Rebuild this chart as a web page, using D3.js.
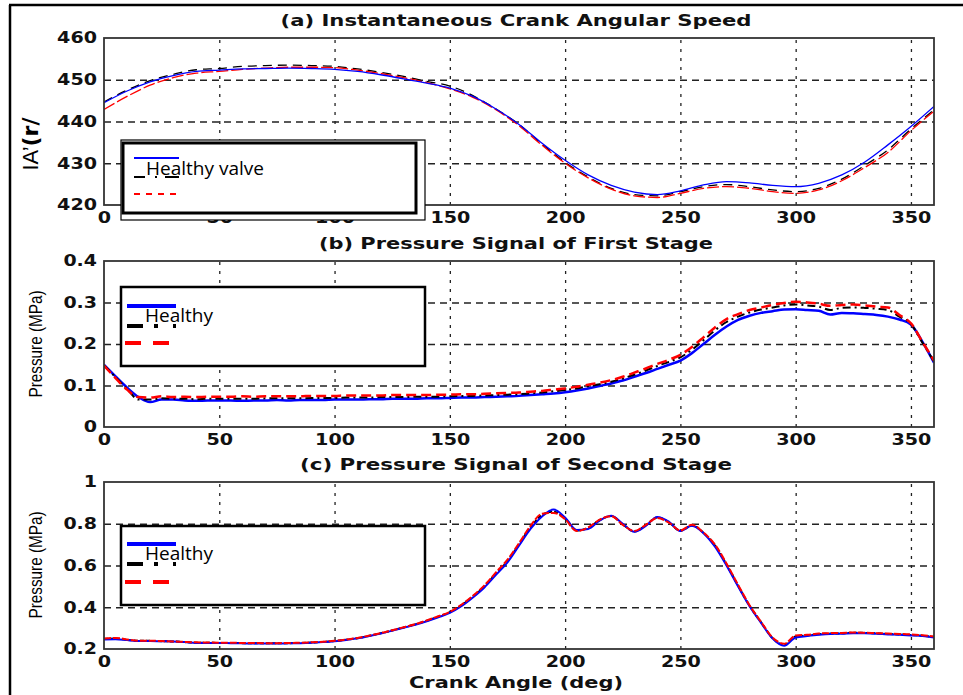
<!DOCTYPE html>
<html>
<head>
<meta charset="utf-8">
<script src="https://cdn.jsdelivr.net/npm/d3@7/dist/d3.min.js"></script>
<style>
  body { margin: 0; background: #fff; }
  .tick text { font-family: "DejaVu Sans", sans-serif; font-weight: bold; font-size: 15px; fill: #111; }
  .ttl { font-family: "DejaVu Sans", sans-serif; font-weight: bold; font-size: 15px; fill: #111; }
  .leg { font-family: "Open Sans", sans-serif; font-size: 19px; fill: #000; }
</style>
</head>
<body>
<div class="page-content"></div>
<script>
// crank angle samples
var angleA = [0,10,20,30,40,50,60,70,80,90,100,110,120,130,140,150,160,170,180,
  190,200,210,220,230,240,250,260,270,280,290,300,310,320,330,340,350,360];
var angleP = [0,5,10,15,20,25,30,35,40,45,50,55,60,65,70,75,80,85,90,95,100,105,110,
  115,120,125,130,135,140,145,150,155,160,165,170,175,180,185,190,195,200,205,210,215,
  220,225,230,235,240,245,250,255,260,265,270,275,280,285,290,295,300,305,310,315,320,
  325,330,335,340,345,350,355,360];

// (a) IAS, r/min
var iasHealthy = [444.5,447.3,449.5,451,452,452.3,452.6,452.7,452.8,452.7,452.5,452,451.2,
  450.2,449.2,448,446,443,439.3,434.8,430.7,427.2,424.7,423.1,422.5,423.4,424.8,425.6,
  425.3,424.7,424.4,425.2,427.2,430.3,434.4,438.8,443.6];
var iasBlack = [444.7,447.5,449.8,451.3,452.4,452.7,453.2,453.4,453.5,453.4,453.2,452.6,
  451.8,450.8,449.6,448.5,446.2,443,439.3,434.6,430.2,426.7,424,422.5,422.2,423.2,424.4,
  424.9,424.4,423.6,423.2,424,426.2,429.5,433.2,438.2,442.8];
var iasRed = [442.9,446,448.7,450.5,451.6,452,452.5,452.8,453,453,452.9,452.3,451.5,450.5,
  449.3,447.8,445.8,442.8,439,434.3,430,426.5,423.8,422.2,421.8,422.8,424,424.4,424,
  423.2,422.8,423.6,425.8,429,432.6,437.8,442.5];

// (b) first stage pressure, MPa
var p1Healthy = [.150,.122,.095,.072,.060,.066,.066,.064,.063,.064,.064,.064,.063,.064,.064,
  .065,.064,.065,.065,.065,.066,.066,.066,.067,.067,.068,.068,.068,.069,.069,.070,.071,
  .071,.072,.073,.074,.075,.077,.079,.081,.084,.088,.093,.099,.105,.112,.121,.130,.140,
  .150,.160,.178,.200,.222,.242,.258,.268,.275,.279,.283,.284,.282,.280,.271,.275,.274,
  .272,.270,.266,.259,.247,.205,.155];
var p1Black = [.149,.120,.092,.066,.066,.069,.068,.068,.067,.068,.068,.068,.068,.068,.069,
  .069,.069,.069,.070,.070,.070,.071,.071,.071,.072,.072,.072,.073,.073,.073,.074,.075,
  .075,.076,.077,.078,.079,.081,.083,.086,.089,.093,.098,.103,.109,.117,.126,.136,.147,
  .157,.168,.186,.209,.233,.253,.266,.276,.283,.288,.293,.295,.293,.290,.282,.287,.288,
  .287,.285,.282,.266,.248,.203,.158];
var p1Red = [.148,.118,.090,.072,.071,.074,.072,.073,.072,.073,.073,.073,.074,.073,.074,
  .074,.074,.074,.075,.075,.075,.076,.076,.076,.076,.077,.077,.077,.077,.078,.078,.079,
  .079,.080,.081,.082,.083,.085,.087,.090,.093,.097,.102,.107,.113,.121,.131,.141,.152,
  .162,.174,.193,.216,.240,.260,.272,.282,.288,.294,.299,.302,.300,.297,.292,.294,.295,
  .293,.290,.288,.270,.250,.205,.160];

// (c) second stage pressure, MPa
var p2Healthy = [.246,.247,.243,.238,.238,.237,.236,.233,.229,.229,.229,.228,.227,.226,.226,
  .226,.227,.228,.230,.233,.237,.243,.251,.262,.274,.288,.302,.316,.333,.352,.373,.405,
  .447,.495,.555,.615,.695,.775,.835,.868,.830,.770,.775,.815,.838,.800,.762,.790,.832,
  .810,.765,.790,.755,.690,.600,.500,.405,.325,.250,.215,.255,.262,.268,.272,.273,.276,
  .275,.273,.270,.268,.265,.262,.255];
var p2Black = [.248,.250,.244,.239,.239,.237,.236,.233,.230,.230,.229,.229,.228,.227,.227,
  .227,.228,.229,.231,.234,.238,.244,.252,.263,.275,.289,.303,.318,.335,.355,.376,.409,
  .451,.500,.561,.622,.701,.783,.842,.858,.826,.768,.779,.818,.837,.797,.763,.793,.830,
  .807,.766,.792,.757,.695,.605,.504,.407,.328,.252,.220,.260,.265,.271,.274,.275,.278,
  .277,.275,.272,.270,.267,.264,.257];
var p2Red = [.250,.253,.246,.240,.240,.238,.236,.234,.232,.231,.230,.230,.229,.229,.228,
  .228,.229,.230,.232,.235,.239,.245,.253,.264,.276,.290,.304,.319,.337,.357,.378,.412,
  .455,.505,.567,.628,.707,.790,.848,.852,.822,.765,.782,.820,.836,.795,.765,.795,.828,
  .805,.768,.795,.758,.700,.610,.508,.410,.330,.255,.225,.265,.268,.274,.276,.277,.279,
  .278,.276,.274,.272,.270,.266,.260];

var xTicks = [0,50,100,150,200,250,300,350];

var W = 963, H = 695;
var left = 104, right = 934;

var svg = d3.select(".page-content").append("svg")
    .attr("width", W)
    .attr("height", H)
    .style("display", "block");

svg.append("rect").attr("width", W).attr("height", H).attr("fill", "#fff");

// outer frame, top and left only
svg.append("line").attr("x1", 9).attr("x2", W).attr("y1", 5).attr("y2", 5)
    .attr("stroke", "#000").attr("stroke-width", 2.5);
svg.append("line").attr("x1", 10).attr("x2", 10).attr("y1", 5).attr("y2", H)
    .attr("stroke", "#000").attr("stroke-width", 2.5);

var x = d3.scaleLinear().domain([0, 360]).range([left, right]);
var fmt = d3.format("~g");

// matlab-ish wide tick labels
function widen(s) {
  s.selectAll("text")
      .attr("textLength", function() {
        var t = this.textContent;
        return t.replace(/\./g, "").length * 13.3 + (t.indexOf(".") >= 0 ? 7 : 0);
      })
      .attr("lengthAdjust", "spacingAndGlyphs");
}

function drawPanel(p) {
  var y = d3.scaleLinear().domain(p.domain).range([p.bottom, p.top]);
  var g = svg.append("g");
  var h = p.bottom - p.top;

  // grid
  g.append("g")
      .attr("transform", "translate(0," + p.bottom + ")")
      .call(d3.axisBottom(x).tickValues(xTicks.slice(1)).tickSize(-h).tickFormat(""))
      .call(function(s) {
        s.select(".domain").remove();
        s.selectAll("line").attr("stroke", "#222").attr("stroke-width", 1.3)
            .attr("stroke-dasharray", "3,6");
      });
  g.append("g")
      .attr("transform", "translate(" + left + ",0)")
      .call(d3.axisLeft(y).tickValues(p.ticks.slice(1, -1)).tickSize(-(right - left)).tickFormat(""))
      .call(function(s) {
        s.select(".domain").remove();
        s.selectAll("line").attr("stroke", "#222").attr("stroke-width", 1.3)
            .attr("stroke-dasharray", "7,5");
      });

  // tick labels
  g.append("g")
      .attr("transform", "translate(" + left + ",0)")
      .call(d3.axisLeft(y).tickValues(p.ticks).tickFormat(fmt).tickSize(0).tickPadding(7))
      .call(function(s) { s.select(".domain").remove(); })
      .call(widen);
  g.append("g")
      .attr("transform", "translate(0," + p.bottom + ")")
      .call(d3.axisBottom(x).tickValues(xTicks).tickFormat(fmt).tickSize(0).tickPadding(7.5))
      .call(function(s) { s.select(".domain").remove(); })
      .call(widen);

  var line = d3.line()
      .x(function(d) { return x(d[0]); })
      .y(function(d) { return y(d[1]); })
      .curve(d3.curveMonotoneX);

  g.append("clipPath").attr("id", "clip" + p.id)
    .append("rect").attr("x", left).attr("y", p.top - 2)
      .attr("width", right - left).attr("height", h + 4);

  p.series.forEach(function(s) {
    g.append("path")
        .datum(p.angles.map(function(a, i) { return [a, s.values[i]]; }))
        .attr("clip-path", "url(#clip" + p.id + ")")
        .attr("fill", "none")
        .attr("stroke", s.color)
        .attr("stroke-width", s.width)
        .attr("stroke-dasharray", s.dash)
        .attr("d", line);
  });

  // box
  g.append("rect")
      .attr("x", left).attr("y", p.top)
      .attr("width", right - left).attr("height", h)
      .attr("fill", "none").attr("stroke", "#333").attr("stroke-width", 1.8);

  // title
  g.append("text").attr("class", "ttl")
      .attr("x", 516).attr("y", p.top - 12)
      .attr("text-anchor", "middle")
      .attr("textLength", p.titleLen).attr("lengthAdjust", "spacingAndGlyphs")
      .text(p.title);

  // legend
  var lg = g.append("g");
  if (p.id == "a") {
    lg.append("rect").attr("x", 121).attr("y", 140).attr("width", 304).attr("height", 80)
        .attr("fill", "#fff").attr("stroke", "#000").attr("stroke-width", 1.2);
    lg.append("rect").attr("x", 123).attr("y", 143).attr("width", 293).attr("height", 70)
        .attr("fill", "#fff").attr("stroke", "#000").attr("stroke-width", 3);
  } else {
    lg.append("rect").attr("x", 121).attr("y", p.legTop).attr("width", 304).attr("height", 79)
        .attr("fill", "#fff").attr("stroke", "#000").attr("stroke-width", 2.5);
  }
  p.legend.forEach(function(l) {
    lg.append("line")
        .attr("x1", l.x1).attr("x2", l.x2).attr("y1", l.y).attr("y2", l.y)
        .attr("stroke", l.color).attr("stroke-width", l.width)
        .attr("stroke-dasharray", l.dash);
  });
  lg.append("text").attr("class", "leg")
      .attr("x", p.legText[0]).attr("y", p.legText[1])
      .text(p.legLabel);
}

drawPanel({
  id: "a", top: 38, bottom: 205, domain: [420, 460],
  ticks: [420, 430, 440, 450, 460],
  title: "(a) Instantaneous Crank Angular Speed", titleLen: 471,
  angles: angleA,
  series: [
    {values: iasBlack, color: "#000", width: 1.3, dash: "9,6"},
    {values: iasRed, color: "#f00", width: 1.3, dash: "12,3"},
    {values: iasHealthy, color: "#00f", width: 1.3, dash: null}
  ],
  legend: [
    {x1: 134, x2: 179, y: 158, color: "#00f", width: 2, dash: null},
    {x1: 134, x2: 179, y: 177, color: "#000", width: 2, dash: "11,10,2,8,14"},
    {x1: 134, x2: 179, y: 194, color: "#f00", width: 2, dash: "6,6"}
  ],
  legText: [146, 175], legLabel: "Healthy valve"
});

drawPanel({
  id: "b", top: 261, bottom: 427, domain: [0, 0.4],
  ticks: [0, 0.1, 0.2, 0.3, 0.4],
  title: "(b) Pressure Signal of First Stage", titleLen: 394,
  angles: angleP,
  series: [
    {values: p1Healthy, color: "#00f", width: 2.5, dash: null},
    {values: p1Black, color: "#000", width: 2, dash: "8,4,2,4"},
    {values: p1Red, color: "#f00", width: 2.5, dash: "10,5"}
  ],
  legend: [
    {x1: 127, x2: 176, y: 306, color: "#00f", width: 4, dash: null},
    {x1: 127, x2: 176, y: 326, color: "#000", width: 4, dash: "16,11,4,15,4"},
    {x1: 125, x2: 169, y: 343, color: "#f00", width: 4, dash: "16,12"}
  ],
  legTop: 287, legText: [145, 322], legLabel: "Healthy"
});

drawPanel({
  id: "c", top: 482, bottom: 649, domain: [0.2, 1],
  ticks: [0.2, 0.4, 0.6, 0.8, 1],
  title: "(c) Pressure Signal of Second Stage", titleLen: 432,
  angles: angleP,
  series: [
    {values: p2Black, color: "#000", width: 2, dash: "4,2"},
    {values: p2Healthy, color: "#00f", width: 2, dash: null},
    {values: p2Red, color: "#f00", width: 2, dash: "7,2"}
  ],
  legend: [
    {x1: 127, x2: 176, y: 544, color: "#00f", width: 4, dash: null},
    {x1: 127, x2: 176, y: 564, color: "#000", width: 4, dash: "16,11,4,15,4"},
    {x1: 125, x2: 169, y: 582, color: "#f00", width: 4, dash: "16,12"}
  ],
  legTop: 526, legText: [145, 560], legLabel: "Healthy"
});

// y labels
var ia = svg.append("text")
    .attr("transform", "translate(38,144) rotate(-90)")
    .attr("text-anchor", "middle")
    .attr("fill", "#000");
ia.append("tspan")
    .style("font-family", "'Liberation Sans Narrow', 'Liberation Sans', sans-serif")
    .style("font-size", "22px")
    .text("IA\u2019");
ia.append("tspan")
    .style("font-family", "'DejaVu Sans', sans-serif")
    .style("font-weight", "bold")
    .style("font-size", "22px")
    .text("(r/");

[[344, "b"], [565, "c"]].forEach(function(d) {
  svg.append("text")
      .attr("transform", "translate(42," + d[0] + ") rotate(-90)")
      .attr("text-anchor", "middle")
      .style("font-family", "'Liberation Sans Narrow', 'Liberation Sans', sans-serif")
      .style("font-size", "18.5px")
      .attr("textLength", 107).attr("lengthAdjust", "spacingAndGlyphs")
      .text("Pressure (MPa)");
});

svg.append("text").attr("class", "ttl")
    .attr("x", 516).attr("y", 688)
    .attr("text-anchor", "middle")
    .attr("textLength", 214).attr("lengthAdjust", "spacingAndGlyphs")
    .text("Crank Angle (deg)");
</script>
</body>
</html>
